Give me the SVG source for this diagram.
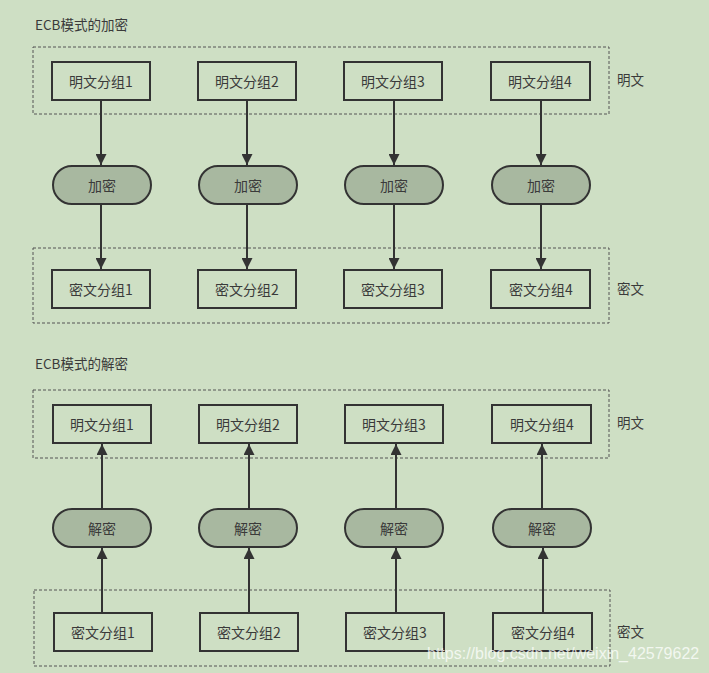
<svg xmlns="http://www.w3.org/2000/svg" width="709" height="673" viewBox="0 0 709 673">
<defs>
<style>
.bg{fill:#cedfc4}
.grp{fill:none;stroke:#555;stroke-width:1;stroke-dasharray:3,2}
.box{fill:#cedfc4;stroke:#333;stroke-width:2}
.pill{fill:#a8b8a0;stroke:#333;stroke-width:2}
.t{font-family:"Noto Sans CJK SC","Liberation Sans",sans-serif;font-size:14px;fill:#3a3a3a;text-anchor:middle;dominant-baseline:central}
.ti{font-family:"Noto Sans CJK SC","Liberation Sans",sans-serif;font-size:13.5px;fill:#3a3a3a;dominant-baseline:central}
.c{stroke:#333;stroke-width:2;fill:none;marker-end:url(#ah)}
.wm{font-family:"Liberation Sans",Arial,sans-serif;font-size:16px;fill:#ffffff;fill-opacity:0.75}
</style>
<marker id="ah" viewBox="0 0 10 10" refX="10" refY="5" markerWidth="5.5" markerHeight="5.5" orient="auto" markerUnits="strokeWidth">
<path d="M0,0 L10,5 L0,10 z" fill="#333"/>
</marker>
</defs>
<rect class="bg" x="0" y="0" width="709" height="673"/>

<g id="enc-title"><text class="ti" x="35" y="24">ECB模式的加密</text></g>
<g id="enc-plain-group"><rect class="grp" x="33" y="47" width="576" height="67"/><text class="ti" x="617" y="79">明文</text></g>
<g id="enc-cipher-group"><rect class="grp" x="33" y="248" width="576" height="75"/><text class="ti" x="617" y="288">密文</text></g>

<g id="enc-p1"><rect class="box" x="52" y="62" width="98" height="38"/><text class="t" x="101" y="81">明文分组1</text></g>
<g id="enc-p2"><rect class="box" x="198" y="62" width="98" height="38"/><text class="t" x="247" y="81">明文分组2</text></g>
<g id="enc-p3"><rect class="box" x="344" y="62" width="98" height="38"/><text class="t" x="393" y="81">明文分组3</text></g>
<g id="enc-p4"><rect class="box" x="491" y="62" width="99" height="38"/><text class="t" x="540" y="81">明文分组4</text></g>

<g id="enc-e1"><rect class="pill" x="53" y="166" width="98" height="38" rx="19"/><text class="t" x="102" y="185">加密</text></g>
<g id="enc-e2"><rect class="pill" x="199" y="166" width="98" height="38" rx="19"/><text class="t" x="248" y="185">加密</text></g>
<g id="enc-e3"><rect class="pill" x="345" y="166" width="98" height="38" rx="19"/><text class="t" x="394" y="185">加密</text></g>
<g id="enc-e4"><rect class="pill" x="492" y="166" width="98" height="38" rx="19"/><text class="t" x="541" y="185">加密</text></g>

<g id="enc-c1"><rect class="box" x="52" y="270" width="98" height="38"/><text class="t" x="101" y="289">密文分组1</text></g>
<g id="enc-c2"><rect class="box" x="198" y="270" width="98" height="38"/><text class="t" x="247" y="289">密文分组2</text></g>
<g id="enc-c3"><rect class="box" x="344" y="270" width="98" height="38"/><text class="t" x="393" y="289">密文分组3</text></g>
<g id="enc-c4"><rect class="box" x="491" y="270" width="99" height="38"/><text class="t" x="541" y="289">密文分组4</text></g>

<g id="dec-title"><text class="ti" x="35" y="363">ECB模式的解密</text></g>
<g id="dec-plain-group"><rect class="grp" x="33" y="390" width="576" height="68"/><text class="ti" x="617" y="422">明文</text></g>
<g id="dec-cipher-group"><rect class="grp" x="34" y="590" width="576" height="76"/><text class="ti" x="617" y="631">密文</text></g>

<g id="dec-p1"><rect class="box" x="53" y="405" width="98" height="38"/><text class="t" x="102" y="424">明文分组1</text></g>
<g id="dec-p2"><rect class="box" x="199" y="405" width="98" height="38"/><text class="t" x="248" y="424">明文分组2</text></g>
<g id="dec-p3"><rect class="box" x="345" y="405" width="98" height="38"/><text class="t" x="394" y="424">明文分组3</text></g>
<g id="dec-p4"><rect class="box" x="492" y="405" width="99" height="38"/><text class="t" x="542" y="424">明文分组4</text></g>

<g id="dec-d1"><rect class="pill" x="53" y="509" width="98" height="38" rx="19"/><text class="t" x="102" y="528">解密</text></g>
<g id="dec-d2"><rect class="pill" x="199" y="509" width="98" height="38" rx="19"/><text class="t" x="248" y="528">解密</text></g>
<g id="dec-d3"><rect class="pill" x="345" y="509" width="98" height="38" rx="19"/><text class="t" x="394" y="528">解密</text></g>
<g id="dec-d4"><rect class="pill" x="493" y="509" width="98" height="38" rx="19"/><text class="t" x="542" y="528">解密</text></g>

<g id="dec-c1"><rect class="box" x="54" y="613" width="98" height="38"/><text class="t" x="103" y="632">密文分组1</text></g>
<g id="dec-c2"><rect class="box" x="200" y="613" width="98" height="38"/><text class="t" x="249" y="632">密文分组2</text></g>
<g id="dec-c3"><rect class="box" x="346" y="613" width="98" height="38"/><text class="t" x="395" y="632">密文分组3</text></g>
<g id="dec-c4"><rect class="box" x="493" y="613" width="99" height="38"/><text class="t" x="543" y="632">密文分组4</text></g>

<g id="connectors">
<line class="c" x1="101" y1="100" x2="101" y2="165"/>
<line class="c" x1="247" y1="100" x2="247" y2="165"/>
<line class="c" x1="394" y1="100" x2="394" y2="165"/>
<line class="c" x1="541" y1="100" x2="541" y2="165"/>
<line class="c" x1="101" y1="204" x2="101" y2="269"/>
<line class="c" x1="247" y1="204" x2="247" y2="269"/>
<line class="c" x1="394" y1="204" x2="394" y2="269"/>
<line class="c" x1="541" y1="204" x2="541" y2="269"/>
<line class="c" x1="102" y1="613" x2="102" y2="548"/>
<line class="c" x1="249" y1="613" x2="249" y2="548"/>
<line class="c" x1="396" y1="613" x2="396" y2="548"/>
<line class="c" x1="543" y1="613" x2="543" y2="548"/>
<line class="c" x1="102" y1="509" x2="102" y2="444"/>
<line class="c" x1="249" y1="509" x2="249" y2="444"/>
<line class="c" x1="396" y1="509" x2="396" y2="444"/>
<line class="c" x1="542" y1="509" x2="542" y2="444"/>
</g>

<text class="wm" x="427" y="659">https://blog.csdn.net/weixin_42579622</text>
</svg>
